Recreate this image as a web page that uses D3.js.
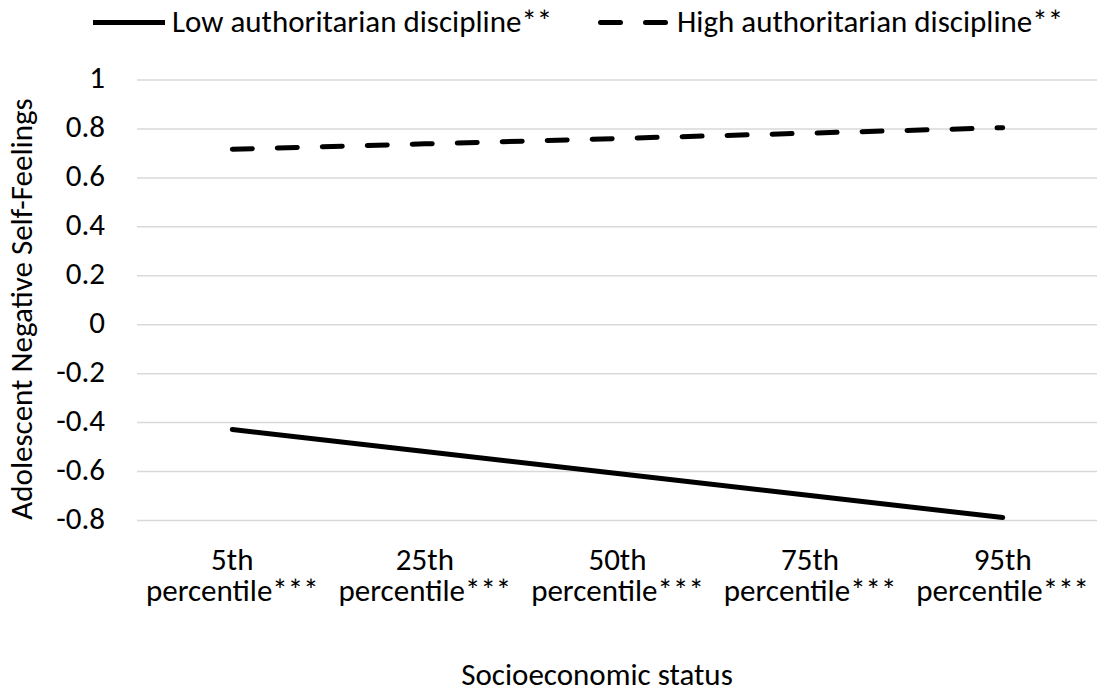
<!DOCTYPE html>
<html>
<head>
<meta charset="utf-8">
<script src="https://cdn.jsdelivr.net/npm/d3@7"></script>
<style>
  body { margin: 0; background: #fff; }
  text { font-family: Carlito, Calibri, Lato, sans-serif; fill: #000; }
</style>
</head>
<body>
<script>
// data
var categories = ["5th|percentile***", "25th|percentile***", "50th|percentile***", "75th|percentile***", "95th|percentile***"];
var lowValues = [-0.43, -0.52, -0.61, -0.70, -0.79];
var highValues = [0.715, 0.737, 0.759, 0.781, 0.803];
var yTicks = [-0.8, -0.6, -0.4, -0.2, 0, 0.2, 0.4, 0.6, 0.8, 1];
var seriesNames = ["Low authoritarian discipline**", "High authoritarian discipline**"];

var width = 1097, height = 694;
var fs = "31px";
var svg = d3.select("body").append("svg")
    .attr("width", width)
    .attr("height", height);

var x = d3.scalePoint()
    .domain(categories)
    .range([136, 1099])
    .padding(0.5);

var y = d3.scaleLinear()
    .domain([-0.8, 1])
    .range([520, 79.5]);

// gridlines + tick labels
var yAxis = svg.append("g")
    .attr("class", "y-axis")
    .attr("transform", "translate(137,0)")
    .call(d3.axisLeft(y)
        .tickValues(yTicks)
        .tickSize(-(width - 137))
        .tickPadding(32)
        .tickFormat(function(d) { return String(Math.round(d * 10) / 10); }));
yAxis.select(".domain").remove();
yAxis.selectAll("line").attr("stroke", "#d9d9d9").attr("stroke-width", 1.5);
yAxis.selectAll("text")
    .style("font-size", fs)
    .style("font-family", "Carlito, Calibri, Lato, sans-serif")
    .attr("dy", "0.26em")
    .attr("fill", "#000");

// category labels, two lines each
var xLab = svg.append("g").attr("class", "x-labels")
    .selectAll("text")
    .data(categories)
    .enter().append("text")
    .attr("text-anchor", "middle")
    .style("font-size", fs);
xLab.append("tspan")
    .attr("x", function(d) { return x(d); })
    .attr("y", 570)
    .text(function(d) { return d.split("|")[0]; });
xLab.append("tspan")
    .attr("x", function(d) { return x(d); })
    .attr("y", 601)
    .text(function(d) { return d.split("|")[1]; });

// lines
var line = d3.line()
    .x(function(d, i) { return x(categories[i]); })
    .y(function(d) { return y(d); });

svg.append("path")
    .datum(lowValues)
    .attr("fill", "none")
    .attr("stroke", "#000")
    .attr("stroke-width", 5)
    .attr("stroke-linecap", "round")
    .attr("d", line);

svg.append("path")
    .datum(highValues)
    .attr("fill", "none")
    .attr("stroke", "#000")
    .attr("stroke-width", 5)
    .attr("stroke-linecap", "round")
    .attr("stroke-dasharray", "20,25")
    .attr("d", line);

// axis titles
svg.append("text")
    .attr("transform", "translate(32,309) rotate(-90)")
    .attr("text-anchor", "middle")
    .style("font-size", fs)
    .text("Adolescent Negative Self-Feelings");

svg.append("text")
    .attr("x", 597)
    .attr("y", 685)
    .attr("text-anchor", "middle")
    .style("font-size", fs)
    .text("Socioeconomic status");

// legend
var legend = svg.append("g").attr("class", "legend");
var legX = [93, 600.5];
legend.selectAll("line")
    .data(seriesNames)
    .enter().append("line")
    .attr("x1", function(d, i) { return legX[i]; })
    .attr("x2", function(d, i) { return legX[i] + (i ? 65 : 72); })
    .attr("y1", 22.5)
    .attr("y2", 22.5)
    .attr("stroke", "#000")
    .attr("stroke-width", 5)
    .attr("stroke-linecap", function(d, i) { return i ? "round" : "butt"; })
    .attr("stroke-dasharray", function(d, i) { return i ? "20,25" : null; });
legend.selectAll("text")
    .data(seriesNames)
    .enter().append("text")
    .attr("x", function(d, i) { return i ? 677 : 172; })
    .attr("y", 32)
    .style("font-size", fs)
    .text(function(d) { return d; });
</script>
</body>
</html>
